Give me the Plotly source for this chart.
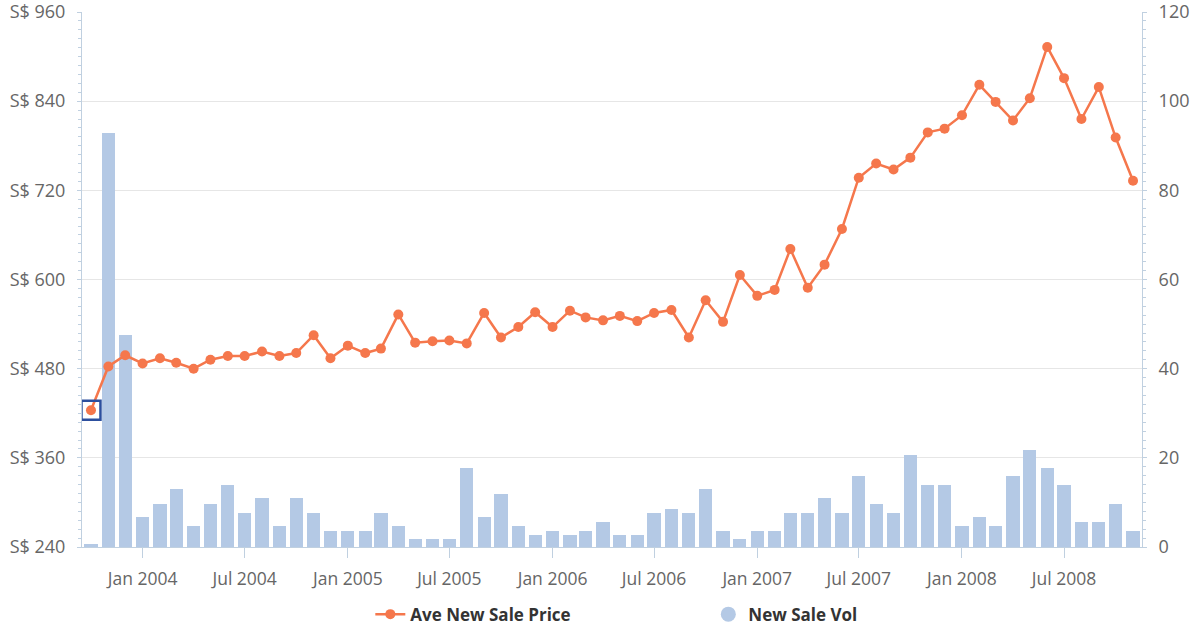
import plotly.graph_objects as go

months = [
    "2003-10-01", "2003-11-01", "2003-12-01",
    "2004-01-01", "2004-02-01", "2004-03-01", "2004-04-01", "2004-05-01", "2004-06-01",
    "2004-07-01", "2004-08-01", "2004-09-01", "2004-10-01", "2004-11-01", "2004-12-01",
    "2005-01-01", "2005-02-01", "2005-03-01", "2005-04-01", "2005-05-01", "2005-06-01",
    "2005-07-01", "2005-08-01", "2005-09-01", "2005-10-01", "2005-11-01", "2005-12-01",
    "2006-01-01", "2006-02-01", "2006-03-01", "2006-04-01", "2006-05-01", "2006-06-01",
    "2006-07-01", "2006-08-01", "2006-09-01", "2006-10-01", "2006-11-01", "2006-12-01",
    "2007-01-01", "2007-02-01", "2007-03-01", "2007-04-01", "2007-05-01", "2007-06-01",
    "2007-07-01", "2007-08-01", "2007-09-01", "2007-10-01", "2007-11-01", "2007-12-01",
    "2008-01-01", "2008-02-01", "2008-03-01", "2008-04-01", "2008-05-01", "2008-06-01",
    "2008-07-01", "2008-08-01", "2008-09-01", "2008-10-01", "2008-11-01",
]

ave_new_sale_price = [
    424, 483, 498,
    487, 494, 488, 480, 492, 497, 497, 503, 497, 501, 525, 494,
    511, 501, 507, 553, 515, 517, 518, 514, 555, 522, 536, 556,
    536, 558, 549, 545, 551, 544, 555, 559, 522, 572, 543, 606,
    578, 586, 641, 589, 620, 668, 737, 756, 748, 764, 798, 803,
    821, 862, 839, 814, 844, 913, 871, 816, 859, 791, 733,
]

new_sale_vol = [
    0.7, 92.9, 47.6,
    6.7, 9.7, 12.9, 4.6, 9.7, 13.9, 7.6, 10.9, 4.6, 10.9, 7.6, 3.7,
    3.7, 3.7, 7.6, 4.6, 1.8, 1.8, 1.8, 17.8, 6.7, 12.0, 4.6, 2.6,
    3.7, 2.6, 3.7, 5.7, 2.6, 2.6, 7.6, 8.6, 7.6, 12.9, 3.7, 1.8,
    3.7, 3.7, 7.6, 7.6, 10.9, 7.6, 15.9, 9.7, 7.6, 20.7, 13.9, 13.9,
    4.6, 6.7, 4.6, 15.9, 21.7, 17.8, 13.9, 5.7, 5.7, 9.7, 3.7,
]

price_ticks = [240, 360, 480, 600, 720, 840, 960]
price_tick_labels = ["S$ 240", "S$ 360", "S$ 480", "S$ 600", "S$ 720", "S$ 840", "S$ 960"]
vol_ticks = [0, 20, 40, 60, 80, 100, 120]

ORANGE = "#F5774C"
BLUE_BAR = "#B4C9E5"
AXIS_COL = "#C0D0E0"
LABEL_COL = "#666666"

fig = go.Figure()

fig.add_trace(go.Bar(
    x=months, y=new_sale_vol, name="New Sale Vol", yaxis="y",
    marker=dict(color=BLUE_BAR, line=dict(width=0)),
    width=23.5 * 86400000, showlegend=False,
))

fig.add_trace(go.Scatter(
    x=months, y=ave_new_sale_price, name="Ave New Sale Price", yaxis="y2",
    mode="lines+markers",
    line=dict(color=ORANGE, width=2.5),
    marker=dict(color=ORANGE, size=10),
))

# legend entry for volume (circle symbol like the original)
fig.add_trace(go.Scatter(
    x=[None], y=[None], name="New Sale Vol", yaxis="y",
    mode="markers", marker=dict(color=BLUE_BAR, size=15, symbol="circle"),
))

# highlighted (hovered) first point
fig.add_trace(go.Scatter(
    x=months[:1], y=ave_new_sale_price[:1], yaxis="y2", mode="markers",
    marker=dict(symbol="square-open", size=19, color="#2C4F9E", line=dict(width=2.5)),
    showlegend=False, hoverinfo="skip",
))

fig.update_layout(
    width=1200, height=628,
    margin=dict(l=82, r=58, t=12, b=81, autoexpand=False),
    paper_bgcolor="white", plot_bgcolor="white",
    font=dict(family="Open Sans", size=17, color=LABEL_COL),
    bargap=0,
    showlegend=True,
    legend=dict(
        orientation="h", x=0.272, xanchor="left",
        yref="container", y=0.05, yanchor="top",
        font=dict(size=17, color="#333333", family="Open Sans", weight="bold"),
        entrywidth=293, entrywidthmode="pixels",
        traceorder="normal",
    ),
    xaxis=dict(
        type="date", range=["2003-09-15", "2008-11-17"],
        tick0="2004-01-01", dtick="M6", tickformat="%b %Y",
        ticks="outside", ticklen=10, tickcolor=AXIS_COL,
        showline=True, linecolor=AXIS_COL, linewidth=1,
        showgrid=False, zeroline=False, automargin=False,
        ticklabelstandoff=6,
        tickfont=dict(size=17.5, color=LABEL_COL),
    ),
    yaxis=dict(
        side="right", range=[0, 120], tickvals=vol_ticks,
        showgrid=True, gridcolor="#E6E6E6", gridwidth=1,
        zeroline=False, automargin=False, ticklabeloverflow="allow",
        showline=True, linecolor=AXIS_COL, linewidth=1,
        ticks="outside", ticklen=4, tickcolor=AXIS_COL,
        minor=dict(dtick=2, ticks="outside", ticklen=3, tickcolor=AXIS_COL),
        ticklabelstandoff=8,
        tickfont=dict(size=18, color=LABEL_COL),
    ),
    yaxis2=dict(
        side="left", overlaying="y", range=[240, 960],
        tickmode="array", tickvals=price_ticks, ticktext=price_tick_labels,
        showgrid=False, zeroline=False, automargin=False, ticklabeloverflow="allow",
        showline=True, linecolor=AXIS_COL, linewidth=1,
        ticks="outside", ticklen=4, tickcolor=AXIS_COL,
        minor=dict(dtick=12, ticks="outside", ticklen=3, tickcolor=AXIS_COL),
        ticklabelstandoff=8,
        tickfont=dict(size=18, color=LABEL_COL),
    ),
)

fig.write_html("out.html")
